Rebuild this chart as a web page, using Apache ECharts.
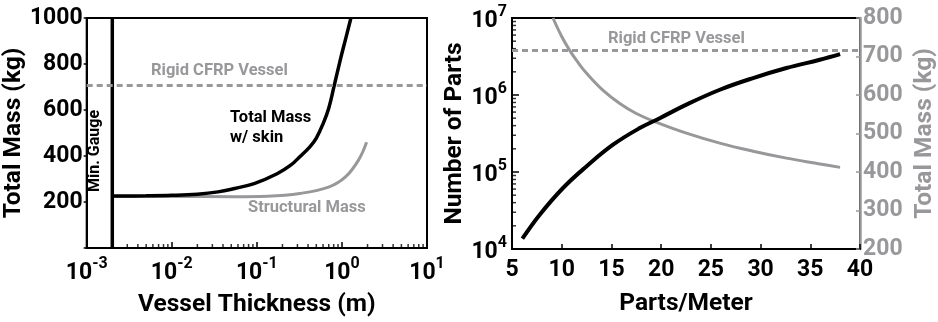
<!DOCTYPE html>
<html>
<head>
<meta charset="utf-8">
<script src="https://cdn.jsdelivr.net/npm/echarts@6/dist/echarts.min.js"></script>
<style>
  html, body { margin: 0; padding: 0; background: #fff; }
  #chart { width: 938px; height: 322px; }
</style>
</head>
<body>
<div id="chart"></div>
<script>
// left panel: mass vs vessel thickness
const thickness = [0.002, 0.005, 0.01, 0.02, 0.035, 0.055, 0.093, 0.173, 0.25, 0.32, 0.42, 0.5, 0.6, 0.7, 0.81, 0.96, 1.1, 1.276];
const totalMass = [226, 227, 229, 234, 244, 259, 280, 323, 360, 397, 440, 478, 540, 608, 705, 820, 906, 1000];
const structThickness = [0.002, 0.01, 0.055, 0.133, 0.32, 0.71, 1.1, 1.56, 1.95];
const structMass = [224, 224, 223, 225, 237, 266, 309, 381, 460];
const minGauge = 0.002;
const rigidMassLeft = 708;

// right panel: parts count and mass vs parts/meter
const partsPerMeter = [6.04, 7.79, 10.13, 12.48, 15.16, 17.85, 19.86, 22.54, 25.9, 29.25, 32.6, 35.96, 38.0];
const numParts = [1.36e4, 2.79e4, 6.2e4, 1.18e5, 2.26e5, 3.72e5, 5.0e5, 7.5e5, 1.17e6, 1.66e6, 2.24e6, 2.87e6, 3.39e6];
const massPartsX = [9.12, 10.0, 10.8, 11.6, 12.48, 14.16, 15.84, 17.5, 19.35, 22.54, 25.9, 29.25, 32.6, 35.96, 38.0];
const massParts = [800, 752, 716, 686, 657, 612, 578, 552, 531, 501, 475, 454, 436, 421, 412];
const rigidMassRight = 715;

const GRAY = '#98989b';
const FONT = 'Roboto';

// minor tick positions for the log axes (2..9 in each decade)
function minorTicks(lo, hi) {
  const out = [];
  for (let d = lo; d < hi * 0.99; d *= 10) {
    for (let k = 2; k <= 9; k++) out.push(+(k * d).toPrecision(3));
  }
  return out;
}
const xMinor = minorTicks(0.001, 10);
const yMinor = minorTicks(1e4, 1e7);

function supLabel(v) {
  const e = Math.round(Math.log10(v));
  return '{b|10}{s|' + e + '}';
}
function supRich(color) {
  return {
    b: { fontSize: 23, fontWeight: 'bold', fontFamily: FONT, color: color, padding: [6, 0, 0, 0], verticalAlign: 'bottom' },
    s: { fontSize: 16, fontWeight: 'bold', fontFamily: FONT, color: color, verticalAlign: 'top' }
  };
}
const nameStyle = (c) => ({ fontSize: 24.5, fontWeight: 'bold', fontFamily: FONT, color: c });
const tickLabel = (c) => ({ fontSize: 23, fontWeight: 'bold', fontFamily: FONT, color: c });

const chart = echarts.init(document.getElementById('chart'));
const option = {
  animation: false,
  backgroundColor: '#fff',
  grid: [
    { left: 78, right: 511, top: 18, bottom: 72, show: true, borderColor: '#000', borderWidth: 2, backgroundColor: 'transparent' },
    { left: 512, right: 78, top: 18, bottom: 73, show: true, borderColor: '#000', borderWidth: 2, backgroundColor: 'transparent' }
  ],
  xAxis: [
    {
      gridIndex: 0, type: 'log', min: 0.001, max: 10, logBase: 10,
      name: 'Vessel Thickness (m)', nameLocation: 'middle', nameGap: 44, nameTextStyle: nameStyle('#000'),
      axisLine: { lineStyle: { color: '#000', width: 2 } },
      axisTick: { inside: true, length: 6, lineStyle: { color: '#000', width: 1.5 } },
      axisLabel: { formatter: supLabel, rich: supRich('#000'), margin: 8 },
      splitLine: { show: false }
    },
    {
      gridIndex: 1, type: 'value', min: 5, max: 40, interval: 5,
      name: 'Parts/Meter', nameLocation: 'middle', nameGap: 42, nameTextStyle: nameStyle('#000'),
      axisLine: { lineStyle: { color: '#000', width: 2 } },
      axisTick: { inside: true, length: 5, lineStyle: { color: '#000', width: 1.5 } },
      axisLabel: Object.assign({ margin: 10 }, tickLabel('#000')),
      splitLine: { show: false }
    }
  ],
  yAxis: [
    {
      gridIndex: 0, type: 'value', min: 0, max: 1000, interval: 200,
      name: 'Total Mass (kg)', nameLocation: 'middle', nameGap: 54, nameRotate: 90, nameTextStyle: nameStyle('#000'),
      axisLine: { lineStyle: { color: '#000', width: 2 } },
      axisTick: { inside: false, length: 3, lineStyle: { color: '#000', width: 1.5 } },
      axisLabel: Object.assign({ margin: 4, formatter: (v) => v === 0 ? '' : String(v) }, tickLabel('#000')),
      splitLine: { show: false }
    },
    {
      gridIndex: 1, type: 'log', min: 1e4, max: 1e7, logBase: 10,
      name: 'Number of Parts', nameLocation: 'middle', nameGap: 40, nameRotate: 90, nameTextStyle: nameStyle('#000'),
      axisLine: { lineStyle: { color: '#000', width: 2 } },
      axisTick: { inside: true, length: 7, lineStyle: { color: '#000', width: 1.5 } },
      axisLabel: { formatter: supLabel, rich: supRich('#000'), margin: 5 },
      splitLine: { show: false }
    },
    {
      gridIndex: 1, type: 'value', position: 'right', min: 200, max: 800, interval: 100,
      name: 'Total Mass (kg)', nameLocation: 'middle', nameGap: 52, nameRotate: 90, nameTextStyle: nameStyle(GRAY),
      axisLine: { lineStyle: { color: GRAY, width: 2.5 } },
      axisTick: { inside: true, length: 4, lineStyle: { color: GRAY, width: 1.5 } },
      axisLabel: Object.assign({ margin: 3 }, tickLabel(GRAY)),
      splitLine: { show: false }
    }
  ],
  series: [
    {
      name: 'Structural Mass', type: 'line', xAxisIndex: 0, yAxisIndex: 0,
      data: structThickness.map((t, i) => [t, structMass[i]]),
      smooth: 0.4, showSymbol: false, lineStyle: { color: GRAY, width: 3 }, z: 2,
      markLine: {
        silent: true, symbol: 'none', label: { show: false },
        lineStyle: { color: GRAY, width: 3, type: [6, 4] },
        data: [{ yAxis: rigidMassLeft }]
      }
    },
    {
      name: 'Total Mass w/ skin', type: 'line', xAxisIndex: 0, yAxisIndex: 0,
      data: thickness.map((t, i) => [t, totalMass[i]]),
      smooth: 0.4, showSymbol: false, lineStyle: { color: '#000', width: 3.5 }, z: 3
    },
    {
      name: 'Min. Gauge', type: 'line', xAxisIndex: 0, yAxisIndex: 0, silent: true,
      data: [[minGauge, 0], [minGauge, 1000]],
      showSymbol: false, lineStyle: { color: '#000', width: 3.5 }, z: 4
    },
    {
      name: 'xMinor', type: 'scatter', xAxisIndex: 0, yAxisIndex: 0, silent: true, clip: false,
      data: xMinor.map((t) => [t, 0]), symbol: 'rect', symbolSize: [1.5, 4], symbolOffset: [0, -2],
      itemStyle: { color: '#000' }, z: 4
    },
    {
      name: 'Total Mass', type: 'line', xAxisIndex: 1, yAxisIndex: 2,
      data: massPartsX.map((x, i) => [x, massParts[i]]),
      smooth: 0.4, showSymbol: false, lineStyle: { color: GRAY, width: 3 }, z: 2,
      markLine: {
        silent: true, symbol: 'none', label: { show: false },
        lineStyle: { color: GRAY, width: 3, type: [6, 4] },
        data: [{ yAxis: rigidMassRight }]
      }
    },
    {
      name: 'Number of Parts', type: 'line', xAxisIndex: 1, yAxisIndex: 1,
      data: partsPerMeter.map((x, i) => [x, numParts[i]]),
      smooth: 0.4, showSymbol: false, lineStyle: { color: '#000', width: 4 }, z: 3
    },
    {
      name: 'yMinor', type: 'scatter', xAxisIndex: 1, yAxisIndex: 1, silent: true, clip: false,
      data: yMinor.map((v) => [5, v]), symbol: 'rect', symbolSize: [4, 1.5], symbolOffset: [2, 0],
      itemStyle: { color: '#000' }, z: 4
    }
  ],
  graphic: [
    { type: 'text', left: 151, top: 62, style: { text: 'Rigid CFRP Vessel', fill: GRAY, font: 'bold 16.5px Roboto' } },
    { type: 'text', left: 230, top: 108, style: { text: 'Total Mass\nw/ skin', fill: '#000', font: 'bold 16.5px Roboto', lineHeight: 20 } },
    { type: 'text', left: 248, top: 199, style: { text: 'Structural Mass', fill: GRAY, font: 'bold 16.5px Roboto' } },
    { type: 'text', x: 95, y: 151, rotation: Math.PI / 2, style: { text: 'Min. Gauge', fill: '#000', font: 'bold 16px Roboto', align: 'center', verticalAlign: 'middle' } },
    { type: 'text', left: 608, top: 30, style: { text: 'Rigid CFRP Vessel', fill: GRAY, font: 'bold 16.5px Roboto' } }
  ]
};
chart.setOption(option);
</script>
</body>
</html>
